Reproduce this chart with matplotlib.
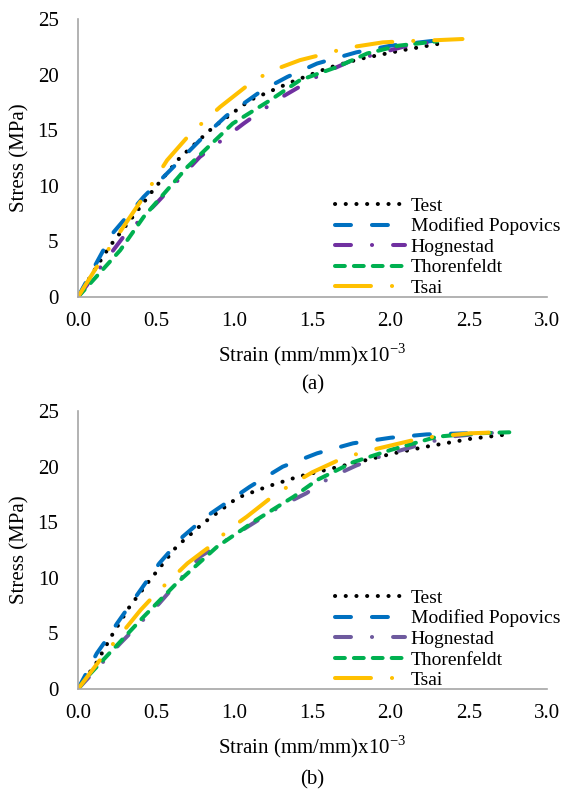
import matplotlib
matplotlib.use("Agg")
import matplotlib.pyplot as plt

plt.rcParams['font.family'] = ['Liberation Serif', 'DejaVu Serif']
plt.rcParams['mathtext.fontset'] = 'custom'
plt.rcParams['mathtext.rm'] = 'Liberation Serif'
plt.rcParams['lines.scale_dashes'] = False

labels = ['Test', 'Modified Popovics', 'Hognestad', 'Thorenfeldt', 'Tsai']

# panel (a)
a_test_x = [0, 0.1, 0.2, 0.35, 0.48, 0.65, 0.86, 1.1, 1.36, 1.6, 1.8, 2.08, 2.36]
a_test_y = [0, 2.3, 4.5, 7.2, 9.6, 12.5, 15.2, 17.7, 19.3, 20.6, 21.4, 22.2, 22.9]
a_pop_x = [0, 0.22, 0.42, 0.59, 0.78, 0.95, 1.18, 1.34, 1.53, 1.78, 2.0, 2.25, 2.32]
a_pop_y = [0, 5.7, 9.0, 11.4, 14.1, 16.3, 18.6, 19.8, 21.0, 22.0, 22.6, 23.0, 23.1]
a_hog_x = [0, 0.29, 0.5, 0.78, 1.06, 1.27, 1.38, 1.55, 1.74, 2.08, 2.3]
a_hog_y = [0, 5.4, 8.4, 12.6, 15.6, 17.7, 18.6, 20.0, 21.2, 22.5, 23.0]
a_tho_x = [0, 0.27, 0.42, 0.7, 0.99, 1.23, 1.42, 1.66, 1.85, 2.05, 2.3]
a_tho_y = [0, 4.2, 7.2, 11.7, 15.6, 17.7, 19.5, 20.7, 21.9, 22.6, 23.0]
a_tsai_x = [0, 0.12, 0.29, 0.42, 0.57, 0.72, 0.91, 1.1, 1.23, 1.42, 1.59, 1.72, 1.95, 2.08, 2.3, 2.46]
a_tsai_y = [0, 2.7, 6.3, 9.0, 12.3, 14.7, 17.1, 19.2, 20.3, 21.3, 21.9, 22.4, 22.9, 23.0, 23.1, 23.2]

# panel (b)
b_test_x = [0, 0.12, 0.22, 0.33, 0.46, 0.63, 0.8, 1.02, 1.21, 1.41, 1.76, 2.02, 2.23, 2.51, 2.75]
b_test_y = [0, 2.4, 4.9, 7.4, 9.8, 12.8, 14.9, 17.2, 18.2, 19.1, 20.3, 21.2, 21.8, 22.5, 22.9]
b_pop_x = [0, 0.12, 0.18, 0.25, 0.4, 0.52, 0.67, 0.82, 1.1, 1.31, 1.53, 1.76, 2.0, 2.23, 2.49, 2.62]
b_pop_y = [0, 3.2, 4.4, 5.9, 8.9, 11.3, 13.7, 15.5, 18.2, 20.0, 21.2, 22.1, 22.6, 22.9, 23.0, 23.1]
b_hog_x = [0, 0.27, 0.52, 0.78, 1.29, 1.46, 1.61, 1.78, 1.95, 2.17, 2.38, 2.6, 2.76]
b_hog_y = [0, 4.1, 7.7, 11.9, 16.4, 17.6, 19.0, 20.1, 21.0, 21.9, 22.7, 23.0, 23.1]
b_tho_x = [0, 0.06, 0.2, 0.42, 0.63, 0.89, 1.14, 1.38, 1.53, 1.76, 2.0, 2.3, 2.55, 2.78]
b_tho_y = [0, 1.1, 3.2, 6.5, 9.5, 12.8, 15.2, 17.3, 18.8, 20.4, 21.5, 22.7, 23.0, 23.1]
b_tsai_x = [0, 0.14, 0.4, 0.5, 0.7, 0.87, 0.96, 1.08, 1.27, 1.38, 1.5, 1.7, 1.85, 2.0, 2.21, 2.36, 2.51, 2.72]
b_tsai_y = [0, 2.6, 7.1, 8.6, 11.3, 13.1, 14.3, 15.5, 17.6, 18.5, 19.5, 20.8, 21.4, 21.9, 22.6, 22.8, 23.0, 23.1]

x_ticks = [0.0, 0.5, 1.0, 1.5, 2.0, 2.5, 3.0]
y_ticks = [0, 5, 10, 15, 20, 25]

lw = 2.9
styles = [
    dict(color='black', dashes=(0.1, 7.6)),
    dict(color='#0070C0', dashes=(11.5, 15.1)),
    dict(color='#7030A0', dashes=(11.5, 15.1, 0.1, 15.1)),
    dict(color='#00B050', dashes=(7.1, 6.5)),
    dict(color='#FFC000', dashes=(25.9, 15.1, 0.1, 15.1)),
]


def panel(ax, series, tag, tag_y, hog_color):
    for (xs, ys), lab, st in zip(series, labels, styles):
        st = dict(st)
        if lab == 'Hognestad':
            st['color'] = hog_color
        ax.plot(xs, ys, lw=lw, dash_capstyle='round', label=lab, **st)
    ax.set_xlim(0, 3)
    ax.set_ylim(0, 25)
    ax.set_xticks(x_ticks)
    ax.set_xticklabels([f'{t:.1f}' for t in x_ticks])
    ax.set_yticks(y_ticks)
    ax.tick_params(length=0, labelsize=15)
    ax.tick_params(axis='x', pad=11)
    ax.tick_params(axis='y', pad=14)
    for s in ['top', 'right']:
        ax.spines[s].set_visible(False)
    for s in ['left', 'bottom']:
        ax.spines[s].set_color('#A6A6A6')
        ax.spines[s].set_linewidth(1.2)
    ax.set_ylabel('Stress (MPa)', fontsize=15, labelpad=6)
    ax.set_xlabel(r'Strain (mm/mm)x10$^{\mathrm{-3}}$', fontsize=15, labelpad=7)
    ax.legend(loc='lower left', bbox_to_anchor=(0.548, 0.0), frameon=False,
              fontsize=14, handlelength=3.6, handletextpad=0.3,
              labelspacing=0.15, borderpad=0, borderaxespad=0)
    ax.text(0.5, tag_y, tag, transform=ax.transAxes, ha='center', va='center', fontsize=15)


fig = plt.figure(figsize=(5.65, 7.92), dpi=100)
ax1 = fig.add_axes([0.138, 0.625, 0.830, 0.351])
ax2 = fig.add_axes([0.138, 0.130, 0.830, 0.351])

panel(ax1, [(a_test_x, a_test_y), (a_pop_x, a_pop_y), (a_hog_x, a_hog_y),
            (a_tho_x, a_tho_y), (a_tsai_x, a_tsai_y)], '(a)', -0.317, '#7030A0')
panel(ax2, [(b_test_x, b_test_y), (b_pop_x, b_pop_y), (b_hog_x, b_hog_y),
            (b_tho_x, b_tho_y), (b_tsai_x, b_tsai_y)], '(b)', -0.327, '#6E5A9E')

fig.savefig('out.png', dpi=100)
